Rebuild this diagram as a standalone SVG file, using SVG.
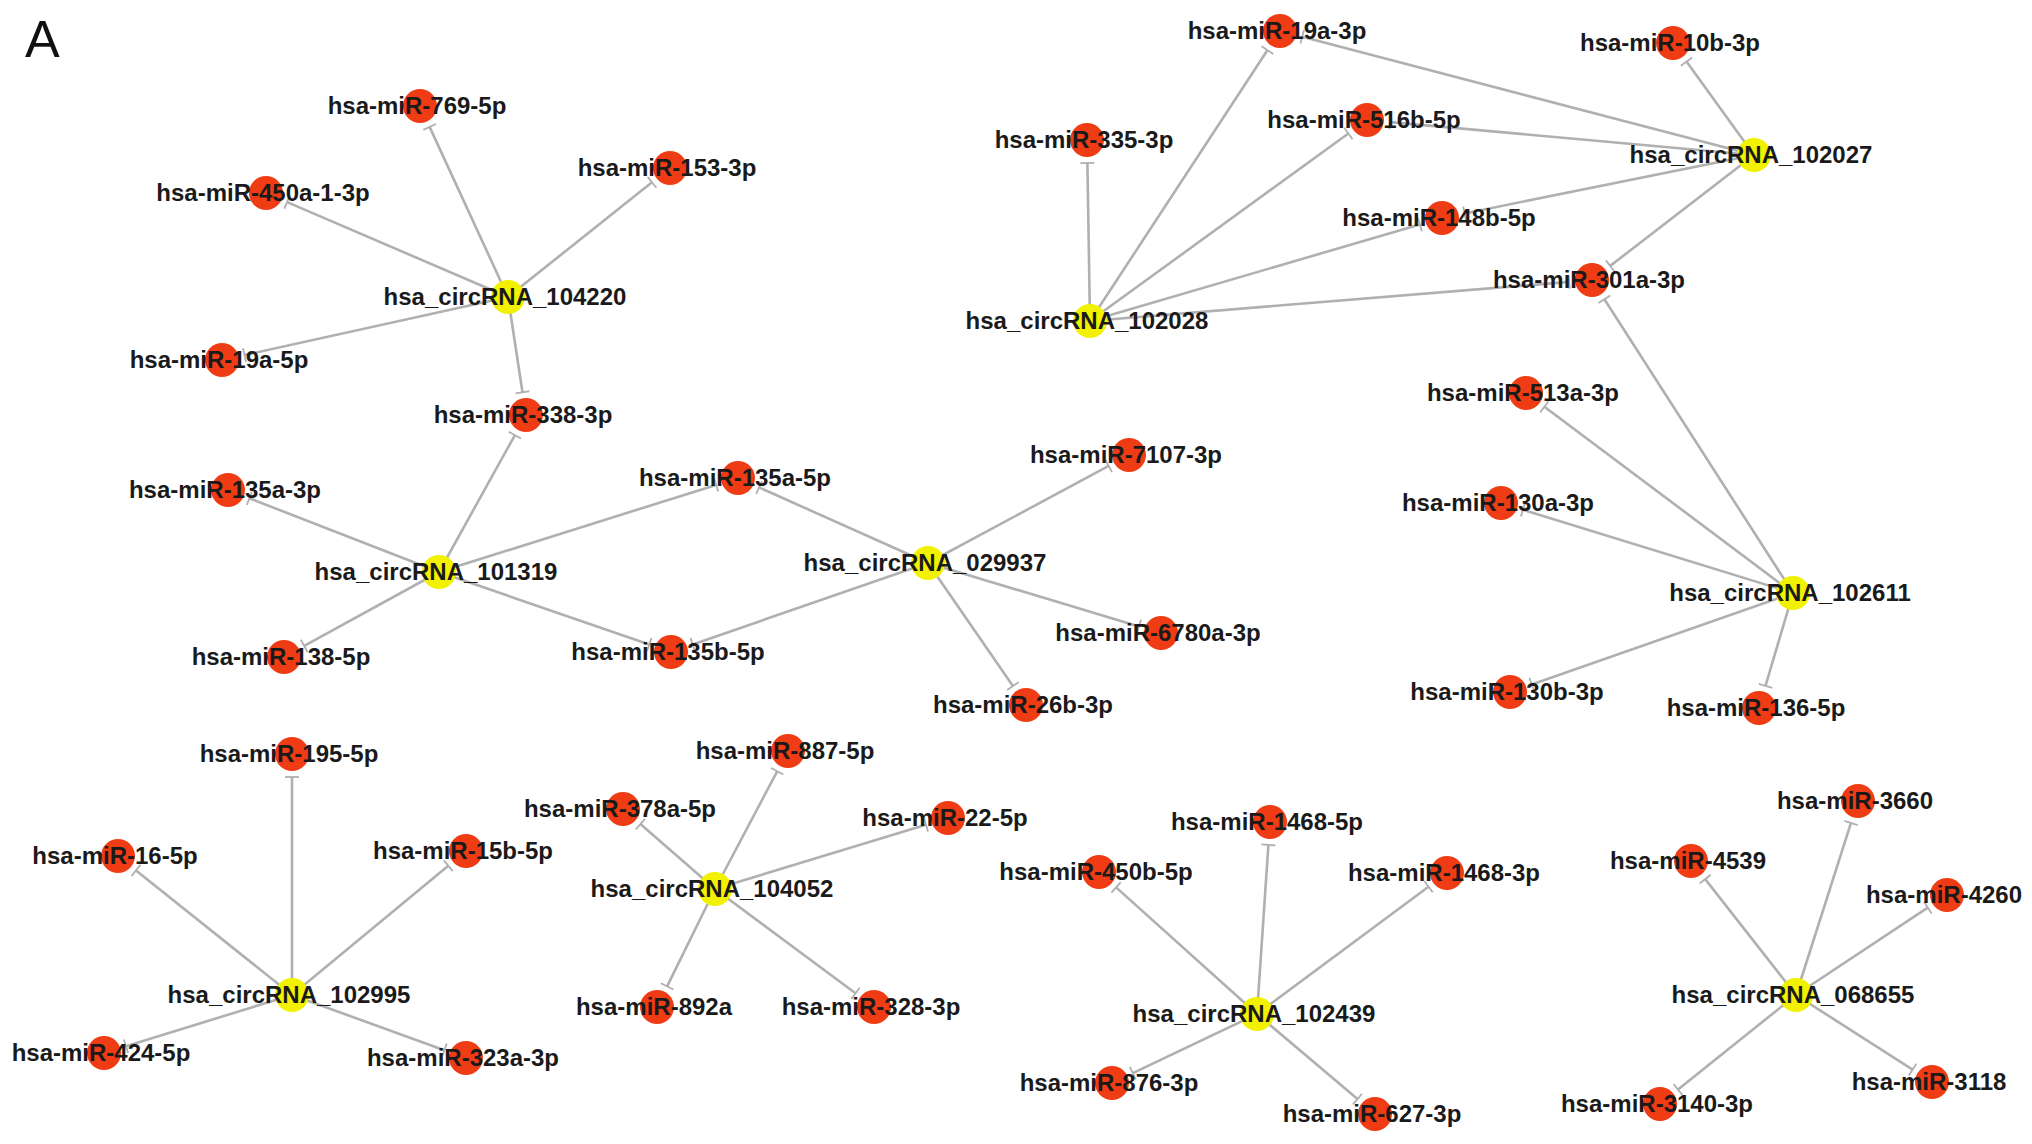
<svg xmlns="http://www.w3.org/2000/svg" width="2032" height="1144" viewBox="0 0 2032 1144">
<defs>
<marker id="tee" markerUnits="userSpaceOnUse" markerWidth="4" markerHeight="18" viewBox="-2 -9 4 18" refX="0" refY="0" orient="auto">
<path d="M0,-7V7" stroke="#b0b0b0" stroke-width="1.8" fill="none"/>
</marker>
</defs>
<style>
.e{stroke:#b0b0b0;stroke-width:2.6;fill:none;marker-end:url(#tee)}
.m{fill:#f03c14}
.c{fill:#f2f200}
text{font-family:"Liberation Sans",Arial,Helvetica,sans-serif;font-weight:bold;font-size:24px;fill:#1a1a1a;text-anchor:middle}
.big{font-weight:normal;font-size:52px;text-anchor:start;fill:#111}
</style>
<rect width="2032" height="1144" fill="#ffffff"/>
<text class="big" x="25" y="57">A</text>
<g id="edges">
<line class="e" x1="508" y1="297" x2="429.6" y2="126.9"/>
<line class="e" x1="508" y1="297" x2="652.0" y2="182.3"/>
<line class="e" x1="508" y1="297" x2="287.1" y2="202.1"/>
<line class="e" x1="508" y1="297" x2="244.5" y2="355.1"/>
<line class="e" x1="508" y1="297" x2="522.5" y2="392.3"/>
<line class="e" x1="439" y1="572" x2="514.9" y2="435.1"/>
<line class="e" x1="439" y1="572" x2="249.4" y2="498.3"/>
<line class="e" x1="439" y1="572" x2="304.2" y2="645.9"/>
<line class="e" x1="439" y1="572" x2="716.1" y2="484.9"/>
<line class="e" x1="439" y1="572" x2="649.3" y2="644.5"/>
<line class="e" x1="928" y1="563" x2="759.0" y2="487.4"/>
<line class="e" x1="928" y1="563" x2="692.7" y2="644.5"/>
<line class="e" x1="928" y1="563" x2="1108.7" y2="465.9"/>
<line class="e" x1="928" y1="563" x2="1139.0" y2="626.4"/>
<line class="e" x1="928" y1="563" x2="1012.9" y2="686.1"/>
<line class="e" x1="1090" y1="321" x2="1087.4" y2="163"/>
<line class="e" x1="1090" y1="321" x2="1267.4" y2="50.2"/>
<line class="e" x1="1090" y1="321" x2="1348.4" y2="133.5"/>
<line class="e" x1="1090" y1="321" x2="1419.9" y2="224.5"/>
<line class="e" x1="1090" y1="321" x2="1569.1" y2="281.9"/>
<line class="e" x1="1754" y1="155" x2="1302.2" y2="36.8"/>
<line class="e" x1="1754" y1="155" x2="1686.5" y2="61.6"/>
<line class="e" x1="1754" y1="155" x2="1389.9" y2="122.1"/>
<line class="e" x1="1754" y1="155" x2="1464.6" y2="213.4"/>
<line class="e" x1="1754" y1="155" x2="1610.2" y2="265.9"/>
<line class="e" x1="1793" y1="593" x2="1604.4" y2="299.3"/>
<line class="e" x1="1793" y1="593" x2="1544.4" y2="406.8"/>
<line class="e" x1="1793" y1="593" x2="1523.0" y2="509.8"/>
<line class="e" x1="1793" y1="593" x2="1531.7" y2="684.4"/>
<line class="e" x1="1793" y1="593" x2="1765.5" y2="685.9"/>
<line class="e" x1="292" y1="995" x2="292" y2="777"/>
<line class="e" x1="292" y1="995" x2="136.0" y2="870.4"/>
<line class="e" x1="292" y1="995" x2="448.3" y2="865.7"/>
<line class="e" x1="292" y1="995" x2="126.0" y2="1046.2"/>
<line class="e" x1="292" y1="995" x2="444.4" y2="1050.2"/>
<line class="e" x1="715" y1="889" x2="777.2" y2="771.3"/>
<line class="e" x1="715" y1="889" x2="640.4" y2="824.1"/>
<line class="e" x1="715" y1="889" x2="926.0" y2="824.7"/>
<line class="e" x1="715" y1="889" x2="667.1" y2="986.4"/>
<line class="e" x1="715" y1="889" x2="855.5" y2="993.3"/>
<line class="e" x1="1257" y1="1014" x2="1268.4" y2="844.9"/>
<line class="e" x1="1257" y1="1014" x2="1116.1" y2="887.4"/>
<line class="e" x1="1257" y1="1014" x2="1428.5" y2="886.7"/>
<line class="e" x1="1257" y1="1014" x2="1132.8" y2="1073.1"/>
<line class="e" x1="1257" y1="1014" x2="1357.5" y2="1099.1"/>
<line class="e" x1="1796" y1="995" x2="1851.0" y2="822.9"/>
<line class="e" x1="1796" y1="995" x2="1705.2" y2="879.1"/>
<line class="e" x1="1796" y1="995" x2="1927.8" y2="907.7"/>
<line class="e" x1="1796" y1="995" x2="1678.0" y2="1089.6"/>
<line class="e" x1="1796" y1="995" x2="1912.6" y2="1069.6"/>
</g>
<g id="hsa_circRNA_104220"><circle class="c" cx="508" cy="297" r="17"/><text x="505" y="305">hsa_circRNA_104220</text></g>
<g id="hsa_circRNA_101319"><circle class="c" cx="439" cy="572" r="17"/><text x="436" y="580">hsa_circRNA_101319</text></g>
<g id="hsa_circRNA_029937"><circle class="c" cx="928" cy="563" r="17"/><text x="925" y="571">hsa_circRNA_029937</text></g>
<g id="hsa_circRNA_102028"><circle class="c" cx="1090" cy="321" r="17"/><text x="1087" y="329">hsa_circRNA_102028</text></g>
<g id="hsa_circRNA_102027"><circle class="c" cx="1754" cy="155" r="17"/><text x="1751" y="163">hsa_circRNA_102027</text></g>
<g id="hsa_circRNA_102611"><circle class="c" cx="1793" cy="593" r="17"/><text x="1790" y="601">hsa_circRNA_102611</text></g>
<g id="hsa_circRNA_102995"><circle class="c" cx="292" cy="995" r="17"/><text x="289" y="1003">hsa_circRNA_102995</text></g>
<g id="hsa_circRNA_104052"><circle class="c" cx="715" cy="889" r="17"/><text x="712" y="897">hsa_circRNA_104052</text></g>
<g id="hsa_circRNA_102439"><circle class="c" cx="1257" cy="1014" r="17"/><text x="1254" y="1022">hsa_circRNA_102439</text></g>
<g id="hsa_circRNA_068655"><circle class="c" cx="1796" cy="995" r="17"/><text x="1793" y="1003">hsa_circRNA_068655</text></g>
<g id="hsa-miR-769-5p"><circle class="m" cx="420" cy="106" r="17"/><text x="417" y="114">hsa-miR-769-5p</text></g>
<g id="hsa-miR-153-3p"><circle class="m" cx="670" cy="168" r="17"/><text x="667" y="176">hsa-miR-153-3p</text></g>
<g id="hsa-miR-450a-1-3p"><circle class="m" cx="266" cy="193" r="17"/><text x="263" y="201">hsa-miR-450a-1-3p</text></g>
<g id="hsa-miR-19a-5p"><circle class="m" cx="222" cy="360" r="17"/><text x="219" y="368">hsa-miR-19a-5p</text></g>
<g id="hsa-miR-338-3p"><circle class="m" cx="526" cy="415" r="17"/><text x="523" y="423">hsa-miR-338-3p</text></g>
<g id="hsa-miR-135a-3p"><circle class="m" cx="228" cy="490" r="17"/><text x="225" y="498">hsa-miR-135a-3p</text></g>
<g id="hsa-miR-138-5p"><circle class="m" cx="284" cy="657" r="17"/><text x="281" y="665">hsa-miR-138-5p</text></g>
<g id="hsa-miR-135a-5p"><circle class="m" cx="738" cy="478" r="17"/><text x="735" y="486">hsa-miR-135a-5p</text></g>
<g id="hsa-miR-135b-5p"><circle class="m" cx="671" cy="652" r="17"/><text x="668" y="660">hsa-miR-135b-5p</text></g>
<g id="hsa-miR-7107-3p"><circle class="m" cx="1129" cy="455" r="17"/><text x="1126" y="463">hsa-miR-7107-3p</text></g>
<g id="hsa-miR-6780a-3p"><circle class="m" cx="1161" cy="633" r="17"/><text x="1158" y="641">hsa-miR-6780a-3p</text></g>
<g id="hsa-miR-26b-3p"><circle class="m" cx="1026" cy="705" r="17"/><text x="1023" y="713">hsa-miR-26b-3p</text></g>
<g id="hsa-miR-19a-3p"><circle class="m" cx="1280" cy="31" r="17"/><text x="1277" y="39">hsa-miR-19a-3p</text></g>
<g id="hsa-miR-10b-3p"><circle class="m" cx="1673" cy="43" r="17"/><text x="1670" y="51">hsa-miR-10b-3p</text></g>
<g id="hsa-miR-335-3p"><circle class="m" cx="1087" cy="140" r="17"/><text x="1084" y="148">hsa-miR-335-3p</text></g>
<g id="hsa-miR-516b-5p"><circle class="m" cx="1367" cy="120" r="17"/><text x="1364" y="128">hsa-miR-516b-5p</text></g>
<g id="hsa-miR-148b-5p"><circle class="m" cx="1442" cy="218" r="17"/><text x="1439" y="226">hsa-miR-148b-5p</text></g>
<g id="hsa-miR-301a-3p"><circle class="m" cx="1592" cy="280" r="17"/><text x="1589" y="288">hsa-miR-301a-3p</text></g>
<g id="hsa-miR-513a-3p"><circle class="m" cx="1526" cy="393" r="17"/><text x="1523" y="401">hsa-miR-513a-3p</text></g>
<g id="hsa-miR-130a-3p"><circle class="m" cx="1501" cy="503" r="17"/><text x="1498" y="511">hsa-miR-130a-3p</text></g>
<g id="hsa-miR-130b-3p"><circle class="m" cx="1510" cy="692" r="17"/><text x="1507" y="700">hsa-miR-130b-3p</text></g>
<g id="hsa-miR-136-5p"><circle class="m" cx="1759" cy="708" r="17"/><text x="1756" y="716">hsa-miR-136-5p</text></g>
<g id="hsa-miR-195-5p"><circle class="m" cx="292" cy="754" r="17"/><text x="289" y="762">hsa-miR-195-5p</text></g>
<g id="hsa-miR-16-5p"><circle class="m" cx="118" cy="856" r="17"/><text x="115" y="864">hsa-miR-16-5p</text></g>
<g id="hsa-miR-15b-5p"><circle class="m" cx="466" cy="851" r="17"/><text x="463" y="859">hsa-miR-15b-5p</text></g>
<g id="hsa-miR-424-5p"><circle class="m" cx="104" cy="1053" r="17"/><text x="101" y="1061">hsa-miR-424-5p</text></g>
<g id="hsa-miR-323a-3p"><circle class="m" cx="466" cy="1058" r="17"/><text x="463" y="1066">hsa-miR-323a-3p</text></g>
<g id="hsa-miR-887-5p"><circle class="m" cx="788" cy="751" r="17"/><text x="785" y="759">hsa-miR-887-5p</text></g>
<g id="hsa-miR-378a-5p"><circle class="m" cx="623" cy="809" r="17"/><text x="620" y="817">hsa-miR-378a-5p</text></g>
<g id="hsa-miR-22-5p"><circle class="m" cx="948" cy="818" r="17"/><text x="945" y="826">hsa-miR-22-5p</text></g>
<g id="hsa-miR-892a"><circle class="m" cx="657" cy="1007" r="17"/><text x="654" y="1015">hsa-miR-892a</text></g>
<g id="hsa-miR-328-3p"><circle class="m" cx="874" cy="1007" r="17"/><text x="871" y="1015">hsa-miR-328-3p</text></g>
<g id="hsa-miR-1468-5p"><circle class="m" cx="1270" cy="822" r="17"/><text x="1267" y="830">hsa-miR-1468-5p</text></g>
<g id="hsa-miR-450b-5p"><circle class="m" cx="1099" cy="872" r="17"/><text x="1096" y="880">hsa-miR-450b-5p</text></g>
<g id="hsa-miR-1468-3p"><circle class="m" cx="1447" cy="873" r="17"/><text x="1444" y="881">hsa-miR-1468-3p</text></g>
<g id="hsa-miR-876-3p"><circle class="m" cx="1112" cy="1083" r="17"/><text x="1109" y="1091">hsa-miR-876-3p</text></g>
<g id="hsa-miR-627-3p"><circle class="m" cx="1375" cy="1114" r="17"/><text x="1372" y="1122">hsa-miR-627-3p</text></g>
<g id="hsa-miR-3660"><circle class="m" cx="1858" cy="801" r="17"/><text x="1855" y="809">hsa-miR-3660</text></g>
<g id="hsa-miR-4539"><circle class="m" cx="1691" cy="861" r="17"/><text x="1688" y="869">hsa-miR-4539</text></g>
<g id="hsa-miR-4260"><circle class="m" cx="1947" cy="895" r="17"/><text x="1944" y="903">hsa-miR-4260</text></g>
<g id="hsa-miR-3140-3p"><circle class="m" cx="1660" cy="1104" r="17"/><text x="1657" y="1112">hsa-miR-3140-3p</text></g>
<g id="hsa-miR-3118"><circle class="m" cx="1932" cy="1082" r="17"/><text x="1929" y="1090">hsa-miR-3118</text></g>
</svg>
